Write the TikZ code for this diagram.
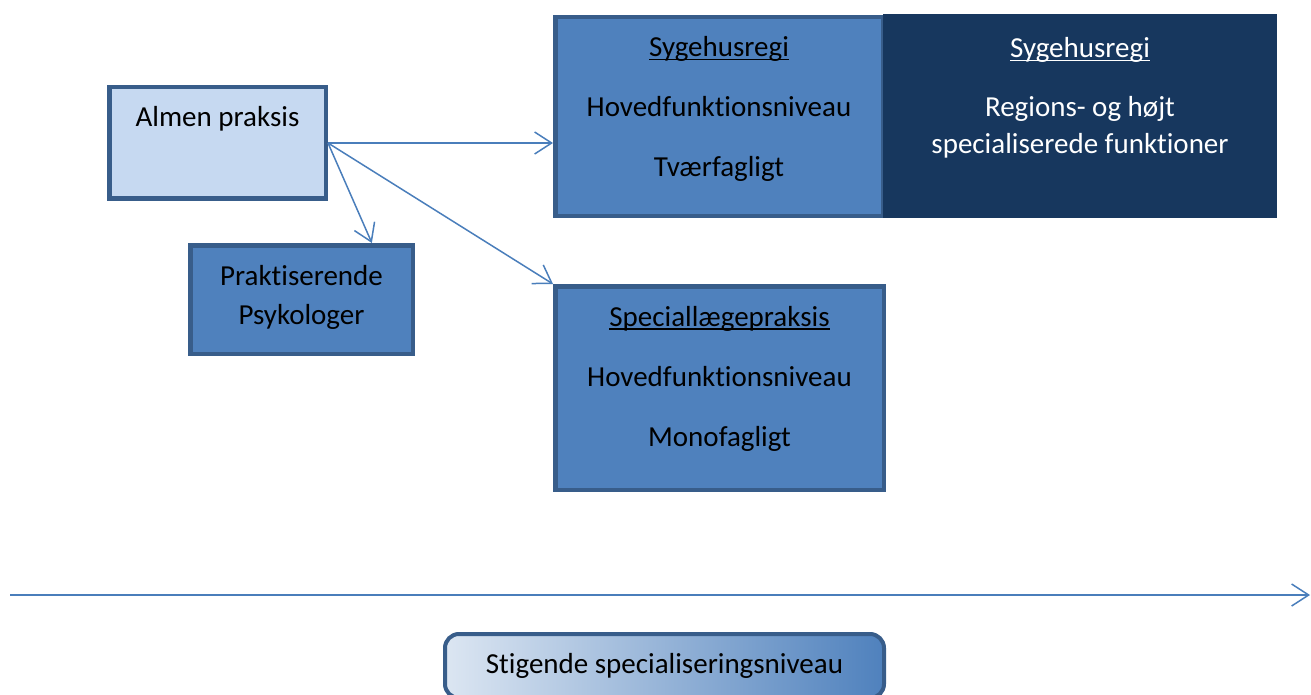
\documentclass[tikz,border=0pt]{standalone}
\usepackage{fontspec}
\setmainfont[Ligatures=NoCommon]{Carlito}
\usetikzlibrary{arrows.meta,calc}
\definecolor{lysblaa}{HTML}{C6D9F1}
\definecolor{mellemblaa}{HTML}{4F81BD}
\definecolor{kantblaa}{HTML}{385D8A}
\definecolor{moerkblaa}{HTML}{17375E}
\definecolor{pilblaa}{HTML}{4A7EBB}
\definecolor{gradlys}{HTML}{DCE6F2}
\newcommand\understreg[1]{\setbox0=\hbox{#1}\rlap{\rule[-3.5pt]{\wd0}{1.5pt}}\box0}
\tikzset{
  boks/.style={draw=kantblaa, line width=4.5pt, fill=mellemblaa, inner sep=0pt},
  tekst/.style={anchor=base, align=flush center, text width=380pt, inner sep=0pt, font=\fontsize{29}{37}\selectfont},
  pil/.style={draw=pilblaa, line width=1.5pt, -{Straight Barb[length=17pt,width=22pt]}}
}
\begin{document}
\begin{tikzpicture}[x=1pt,y=-1pt]
    \useasboundingbox (0,0) rectangle (1311,695);

    % kasserne
    \node[boks, fill=lysblaa, minimum width=216.5pt, minimum height=111.5pt] (almen) at (217.5,143) {};
    \node[boks, minimum width=222.5pt, minimum height=108.5pt] (psyk) at (301.5,299.5) {};
    \node[boks, minimum width=327.5pt, minimum height=198.5pt] (syg) at (719,116.5) {};
    \node[fill=moerkblaa, inner sep=0pt, outer sep=0pt, minimum width=394pt, minimum height=204pt] (region) at (1080,116) {};
    \node[boks, minimum width=328.5pt, minimum height=203.5pt] (spec) at (719.5,388) {};

    \node[tekst] (almentxt) at ([yshift=-42pt]almen.north) {Almen praksis};
    \node[tekst] (psyktxt) at ([yshift=-42pt]psyk.north) {Praktiserende\\[2pt]Psykologer};
    \node[tekst] (sygtxt) at ([yshift=-42pt]syg.north) {\understreg{Sygehusregi}\\[23pt]Hovedfunktionsniveau\\[23pt]Tværfagligt};
    \node[tekst, text=white] (regiontxt) at ([yshift=-44pt]region.north) {\understreg{Sygehusregi}\\[22pt]Regions- og højt\\specialiserede funktioner};
    \node[tekst] (spectxt) at ([yshift=-42pt]spec.north) {\understreg{Speciallægepraksis}\\[23pt]Hovedfunktionsniveau\\[23pt]Monofagligt};

    % pile
    \draw[pil] (almen.east) -- (almen.east -| syg.west);
    \draw[pil] (almen.east) -- ($(psyk.north west)!0.81!(psyk.north east)$);
    \draw[pil] (almen.east) -- (spec.north west);

    % niveau-akse
    \coordinate (aksestart) at (10,595);
    \coordinate (akseslut) at (1310,595);
    \draw[pil] (aksestart) -- (akseslut);

    \node[draw=kantblaa, line width=4pt, rounded corners=14pt, left color=gradlys, right color=mellemblaa,
          minimum width=439pt, minimum height=64pt, font=\fontsize{29}{37}\selectfont] (niveau) at (664.5,666) {Stigende specialiseringsniveau};
\end{tikzpicture}
\end{document}
